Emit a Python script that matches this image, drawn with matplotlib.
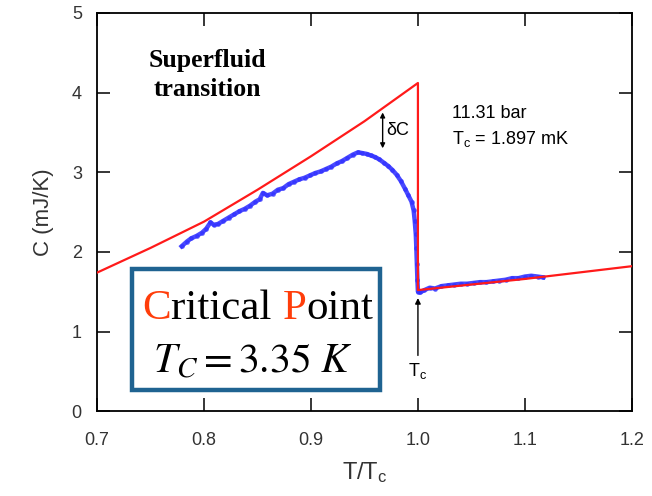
import numpy as np
import matplotlib
matplotlib.use('Agg')
from matplotlib import pyplot as plt
from matplotlib.patches import Rectangle

# red model line (normal state fit, jump at Tc)
fit_t = [0.70, 0.75, 0.80, 0.85, 0.90, 0.95, 1.00, 1.00, 1.05, 1.10, 1.15, 1.20]
fit_c = [1.74, 2.05, 2.38, 2.78, 3.20, 3.64, 4.12, 1.52, 1.59, 1.66, 1.74, 1.82]

# blue measured heat capacity
data_t = [0.779, 0.784, 0.788, 0.793, 0.798, 0.802, 0.806, 0.809, 0.813, 0.818,
          0.823, 0.828, 0.833, 0.838, 0.843, 0.848, 0.852, 0.855, 0.859, 0.864,
          0.869, 0.874, 0.879, 0.884, 0.889, 0.894, 0.899, 0.904, 0.909, 0.914,
          0.919, 0.924, 0.929, 0.934, 0.939, 0.944, 0.948, 0.952, 0.956, 0.960,
          0.964, 0.968, 0.972, 0.976, 0.980, 0.984, 0.988, 0.991, 0.994, 0.996,
          0.997, 0.998, 0.9985, 0.999, 0.9995, 1.000, 1.002, 1.006, 1.011, 1.016,
          1.022, 1.028, 1.034, 1.040, 1.046, 1.052, 1.058, 1.064, 1.070, 1.076,
          1.082, 1.088, 1.094, 1.100, 1.106, 1.112, 1.117]
data_c = [2.07, 2.13, 2.17, 2.20, 2.24, 2.29, 2.37, 2.34, 2.35, 2.39,
          2.43, 2.47, 2.51, 2.54, 2.58, 2.63, 2.66, 2.74, 2.71, 2.73,
          2.78, 2.80, 2.85, 2.88, 2.91, 2.93, 2.96, 2.99, 3.01, 3.04,
          3.07, 3.11, 3.14, 3.18, 3.22, 3.25, 3.24, 3.23, 3.21, 3.19,
          3.16, 3.12, 3.08, 3.03, 2.97, 2.89, 2.79, 2.71, 2.63, 2.52,
          2.39, 2.22, 2.05, 1.85, 1.65, 1.50, 1.49, 1.52, 1.55, 1.54,
          1.57, 1.58, 1.59, 1.60, 1.60, 1.61, 1.62, 1.62, 1.63, 1.64,
          1.65, 1.67, 1.67, 1.69, 1.70, 1.69, 1.68]

xticks = [0.7, 0.8, 0.9, 1.0, 1.1, 1.2]
xticklabels = ['0.7', '0.8', '0.9', '1.0', '1.1', '1.2']
yticks = [0, 1, 2, 3, 4, 5]

plt.rcParams['font.family'] = ['Liberation Sans', 'DejaVu Sans']
plt.rcParams['mathtext.fontset'] = 'custom'
plt.rcParams['mathtext.rm'] = 'Liberation Sans'
plt.rcParams['mathtext.it'] = 'Liberation Sans:italic'

fig = plt.figure(figsize=(6.52, 4.96), dpi=100)
ax = fig.add_axes([0.149, 0.171, 0.820, 0.803])

ax.plot(data_t, data_c, color='#2a2aff', lw=3.2, alpha=0.85, zorder=2)
ax.plot(data_t, data_c, 'o', color='#3030ff', ms=2.5, alpha=0.6, zorder=2)
ax.plot(fit_t, fit_c, color='#ff1a1a', lw=1.6, zorder=3)

ax.set_xlim(0.7, 1.2)
ax.set_ylim(0, 5)
ax.set_xticks(xticks)
ax.set_xticklabels(xticklabels)
ax.set_yticks(yticks)
ax.tick_params(direction='in', length=9.5, width=1.1, top=True, right=True,
               labelsize=13, labelcolor='#333333')
ax.tick_params(axis='x', pad=15)
ax.tick_params(axis='y', pad=11)
for s in ax.spines.values():
    s.set_linewidth(1.3)

ax.set_xlabel('T/T$_\\mathrm{c}$', fontsize=17, color='#333333', labelpad=8)
ax.set_ylabel('C (mJ/K)', fontsize=16, color='#333333', labelpad=13)

# annotations
ax.text(0.803, 4.22, 'Superfluid\ntransition', family='Liberation Serif', weight='bold',
        fontsize=18.5, ha='center', va='center', linespacing=1.3)
ax.text(1.032, 3.57, '11.31 bar\nT$_\\mathrm{c}$ = 1.897 mK', fontsize=13,
        ha='left', va='center', linespacing=1.45)
ax.annotate('', xy=(0.967, 3.30), xytext=(0.967, 3.75),
            arrowprops=dict(arrowstyle='<|-|>', lw=1.0, color='black',
                            mutation_scale=7, shrinkA=0, shrinkB=0))
ax.text(0.970, 3.52, '\u03b4C', fontsize=13, ha='left', va='center')
ax.annotate('', xy=(1.0, 1.42), xytext=(1.0, 0.70),
            arrowprops=dict(arrowstyle='-|>', lw=1.0, color='black',
                            mutation_scale=8, shrinkA=0, shrinkB=0))
ax.text(1.0, 0.50, 'T$_\\mathrm{c}$', fontsize=13, ha='center', va='center')

# critical point box
ax.add_patch(Rectangle((0.065, 0.053), 0.464, 0.304, transform=ax.transAxes,
                       facecolor='white', edgecolor='#1f6391', lw=3.2, zorder=5))
t1 = ax.text(0.085, 0.258, 'C', transform=ax.transAxes, fontsize=31, color='#ff3d0a',
             family='Liberation Serif', ha='left', va='center', zorder=6)
fig.canvas.draw()
r = fig.canvas.get_renderer()
x = t1.get_window_extent(r).x1
for part, col in [('ritical ', 'black'), ('P', '#ff3d0a'), ('oint', 'black')]:
    xa = ax.transAxes.inverted().transform((x, 0))[0]
    t = ax.text(xa, 0.258, part, transform=ax.transAxes, fontsize=31, color=col,
                family='Liberation Serif', ha='left', va='center', zorder=6)
    fig.canvas.draw()
    x = t.get_window_extent(r).x1
ax.text(0.292, 0.125, '$T_C = 3.35\\ K$', transform=ax.transAxes, fontsize=30,
        math_fontfamily='stix', ha='center', va='center', zorder=6)

fig.savefig('out.png', dpi=100)
